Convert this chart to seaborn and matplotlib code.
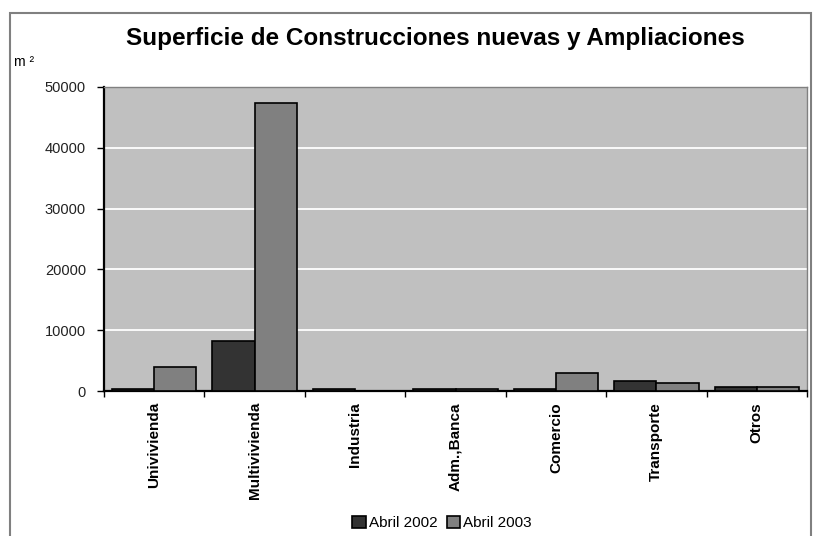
import numpy as np
import matplotlib
matplotlib.use("Agg")
import matplotlib.pyplot as plt
import pandas as pd
import seaborn as sns
from matplotlib.patches import Rectangle

# Data (m2)
categorias = ["Univivienda", "Multivivienda", "Industria", "Adm.,Banca",
              "Comercio", "Transporte", "Otros"]
abril_2002 = [300, 8200, 300, 300, 300, 1650, 650]
abril_2003 = [3950, 47300, 50, 300, 3000, 1300, 600]
series = ["Abril 2002", "Abril 2003"]
colores = ["#333333", "#808080"]

df = pd.DataFrame({
    "categoria": categorias * 2,
    "valor": abril_2002 + abril_2003,
    "serie": [series[0]] * len(categorias) + [series[1]] * len(categorias),
})

sns.set_style("white")
plt.rcParams["font.family"] = ["Liberation Sans", "DejaVu Sans"]
plt.rcParams["text.color"] = "black"
plt.rcParams["xtick.color"] = "black"
plt.rcParams["ytick.color"] = "black"

fig = plt.figure(figsize=(8.15, 5.36), dpi=100)
ax = fig.add_axes([0.1276, 0.2705, 0.8626, 0.5672])
ax.set_facecolor("#c0c0c0")

sns.barplot(data=df, x="categoria", y="valor", hue="serie",
            palette=colores, order=categorias, hue_order=series,
            width=0.84, edgecolor="black", linewidth=1.2,
            saturation=1, ax=ax, zorder=3)

# y axis
ax.set_ylim(0, 50000)
ax.set_yticks(np.arange(0, 50001, 10000))
ax.set_yticklabels([str(v) for v in range(0, 50001, 10000)], fontsize=10.5)
ax.yaxis.grid(True, color="white", linewidth=1.3, zorder=0)
ax.set_axisbelow(True)
ax.tick_params(axis="y", length=5, width=1, color="black", labelcolor="#222222", pad=8, left=True)

# x axis: labels at centres, ticks at boundaries
ax.set_xlim(-0.5, len(categorias) - 0.5)
ax.set_xticks(range(len(categorias)))
ax.set_xticklabels(categorias, rotation=90, fontsize=11, fontweight="bold")
ax.tick_params(axis="x", length=0, pad=8, labelcolor="black")
ax.set_xticks(np.arange(-0.5, len(categorias), 1), minor=True)
ax.tick_params(axis="x", which="minor", length=4, width=1, color="black", bottom=True)

ax.set_xlabel("")
ax.set_ylabel("")

for side in ["left", "bottom"]:
    ax.spines[side].set_color("black")
    ax.spines[side].set_linewidth(1.6)
for side in ["top", "right"]:
    ax.spines[side].set_visible(True)
    ax.spines[side].set_color("#808080")
    ax.spines[side].set_linewidth(1)

# legend at bottom
ax.legend(loc="center", bbox_to_anchor=(442 / 815, 1 - 523 / 536), bbox_transform=fig.transFigure,
          ncol=2, frameon=False, fontsize=11, handlelength=0.9, handleheight=0.9,
          handletextpad=0.2, columnspacing=0.6, borderaxespad=0, labelcolor="black")

# title and unit
fig.text(435 / 815, 1 - 38 / 536, "Superficie de Construcciones nuevas y Ampliaciones",
         ha="center", va="center", fontsize=17.5, fontweight="bold", color="black")
fig.text(14 / 815, 1 - 62 / 536, "m ²", ha="left", va="center", fontsize=10, color="black")

# outer frame
fig.patches.append(Rectangle((10 / 815, -0.02), 801 / 815, 0.02 + 1 - 13 / 536,
                             transform=fig.transFigure, fill=False,
                             edgecolor="#808080", linewidth=1.5))

fig.savefig("out.png", dpi=100)
